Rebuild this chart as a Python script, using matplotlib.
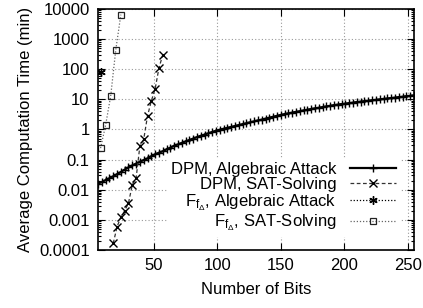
import matplotlib
matplotlib.use('Agg')
import matplotlib.pyplot as plt
import matplotlib.ticker as mticker

plt.rcParams['font.family'] = ['Liberation Sans', 'DejaVu Sans']
plt.rcParams['mathtext.fontset'] = 'custom'
plt.rcParams['mathtext.rm'] = 'Liberation Sans'
plt.rcParams['mathtext.it'] = 'Liberation Sans'
plt.rcParams['font.size'] = 12

# DPM, algebraic attack (every 3 bits)
dpm_alg_bits = list(range(6, 256, 3))
dpm_alg_time = [0.016, 0.018, 0.021, 0.024, 0.028, 0.033, 0.039, 0.047, 0.055, 0.064,
                0.074, 0.085, 0.097, 0.11, 0.13, 0.15, 0.17, 0.19, 0.22, 0.25,
                0.29, 0.32, 0.36, 0.40, 0.45, 0.50, 0.56, 0.62, 0.68, 0.75,
                0.83, 0.91, 0.99, 1.06, 1.14, 1.22, 1.31, 1.41, 1.51, 1.62,
                1.74, 1.86, 2.00, 2.14, 2.30, 2.47, 2.65, 2.84, 3.05, 3.25,
                3.45, 3.65, 3.85, 4.05, 4.30, 4.55, 4.80, 5.05, 5.30, 5.55,
                5.85, 6.15, 6.45, 6.75, 7.0, 7.25, 7.55, 7.85, 8.15, 8.45,
                8.75, 9.05, 9.40, 9.70, 10.0, 10.4, 10.7, 11.1, 11.5, 11.9,
                12.3, 12.8, 13.2, 13.6]

# DPM, SAT-solving
dpm_sat_bits = [18, 21, 24, 27, 30, 33, 36, 39, 42, 45, 48, 51, 54, 57]
dpm_sat_time = [0.000166, 0.00059, 0.00123, 0.0020, 0.0036, 0.0144, 0.024,
                0.285, 0.47, 2.8, 8.9, 22, 109, 300]

# F_fDelta, algebraic attack
ff_alg_bits = [8]
ff_alg_time = [80]

# F_fDelta, SAT-solving
ff_sat_bits = [8, 12, 16, 20, 24]
ff_sat_time = [0.24, 1.4, 13, 440, 6500]

y_ticks = [0.0001, 0.001, 0.01, 0.1, 1, 10, 100, 1000, 10000]
x_ticks = [50, 100, 150, 200, 250]

fig = plt.figure(figsize=(4.23, 3.08), dpi=100)
ax = fig.add_axes([0.2317, 0.1883, 0.747, 0.7825])

ax.plot(dpm_alg_bits, dpm_alg_time, color='black', linestyle='-', linewidth=1.6,
        marker='+', markersize=6, markeredgewidth=1.0, label='DPM, Algebraic Attack')
ax.plot(dpm_sat_bits, dpm_sat_time, color='#333333', linestyle=(0, (3, 2)), linewidth=0.9,
        marker='x', markersize=6, markeredgewidth=1.0, markeredgecolor='black',
        label='DPM, SAT-Solving')
ax.plot(ff_alg_bits, ff_alg_time, color='black', linestyle=(0, (1, 1.5)), linewidth=0.9,
        marker=(6, 2, 0), markersize=6, markeredgewidth=1.0,
        label=r'F$_{\mathrm{f}_{\Delta}}$, Algebraic Attack')
ax.plot(ff_sat_bits, ff_sat_time, color='#666666', linestyle=(0, (1, 1.5)), linewidth=0.9,
        marker='s', markersize=5, markerfacecolor='none', markeredgecolor='#222222',
        markeredgewidth=0.9, label=r'F$_{\mathrm{f}_{\Delta}}$, SAT-Solving')

ax.set_yscale('log')
ax.set_xlim(6, 255)
ax.set_ylim(0.0001, 10000)
ax.set_yticks(y_ticks)
ax.yaxis.set_major_formatter(mticker.FuncFormatter(lambda v, p: '%g' % v))
ax.yaxis.set_minor_locator(mticker.LogLocator(base=10, subs=range(2, 10), numticks=20))
ax.yaxis.set_minor_formatter(mticker.NullFormatter())
ax.set_xticks(x_ticks)

ax.tick_params(which='both', direction='in', top=True, right=True, width=0.8)
ax.tick_params(which='major', length=5, pad=6)
ax.tick_params(which='minor', length=2.5)
for s in ax.spines.values():
    s.set_linewidth(1.2)

ax.grid(True, which='major', color='#999999', linestyle=(0, (1, 2)), linewidth=0.8)
ax.set_axisbelow(True)

ax.set_xlabel('Number of Bits', labelpad=6)
ax.set_ylabel('Average Computation Time (min)', labelpad=4)

leg = ax.legend(loc='lower right', bbox_to_anchor=(0.955, 0.055), markerfirst=False,
                handlelength=2.8, handletextpad=0.8, labelspacing=0.0,
                borderaxespad=0, borderpad=0.2, frameon=True, fancybox=False,
                edgecolor='none', facecolor='white', framealpha=1)

fig.savefig('out.png', dpi=100)
